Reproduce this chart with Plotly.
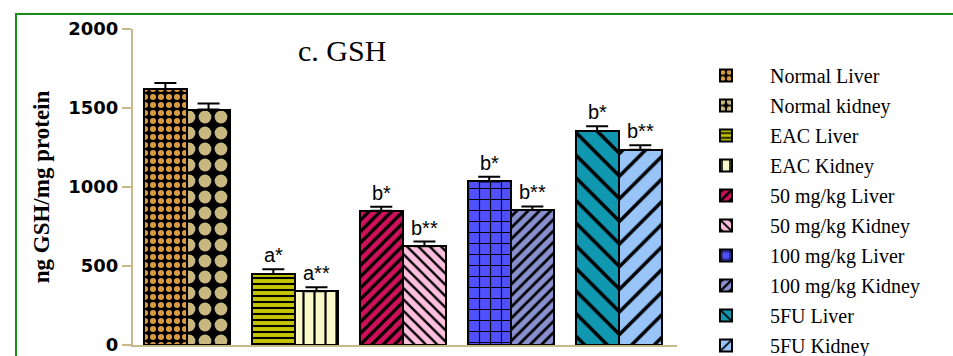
import plotly.graph_objects as go

# ---- data ----
groups = ["Normal", "EAC", "50 mg/kg", "100 mg/kg", "5FU"]
series_names = ["Normal Liver", "Normal kidney", "EAC Liver", "EAC Kidney",
                "50 mg/kg Liver", "50 mg/kg Kidney", "100 mg/kg Liver",
                "100 mg/kg Kidney", "5FU Liver", "5FU Kidney"]
values = [1620, 1490, 450, 340, 850, 625, 1035, 855, 1355, 1235]
errors = [38, 38, 30, 25, 25, 30, 30, 22, 30, 30]
sig_labels = ["", "", "a*", "a**", "b*", "b**", "b*", "b**", "b*", "b**"]
y_ticks = [0, 500, 1000, 1500, 2000]

# ---- styles ----
bg_colors = ["#d89a40", "#c8b880", "#c4c400", "#f8f8c8", "#d0105a",
             "#ffc0e0", "#5050ff", "#8890d0", "#1098b0", "#98c4f8"]
pat_shapes = [".", ".", "-", "|", "/", "\\", "+", "/", "\\", "/"]
pat_sizes = [8, 16, 6, 11, 8, 8, 11, 8, 16, 16]
pat_solid = [0.45, 0.5, 0.35, 0.2, 0.4, 0.3, 0.2, 0.35, 0.22, 0.22]

AXIS = "#c8b98a"
BOTTOM = 345  # pixel row of the x axis
fig = go.Figure()
for i, name in enumerate(series_names):
    g = i // 2
    is_liver = (i % 2 == 0)
    if pat_shapes[i] == ".":
        fg, bg = bg_colors[i], "black"
    else:
        fg, bg = "black", bg_colors[i]
    fig.add_trace(go.Bar(
        x=[g], y=[values[i]], name=name,
        width=0.4, offset=-0.4 if is_liver else 0.0,
        marker=dict(color=bg, line=dict(color="black", width=2),
                    pattern=dict(shape=pat_shapes[i], fgcolor=fg, bgcolor=bg,
                                 size=pat_sizes[i], solidity=pat_solid[i],
                                 fillmode="replace")),
        error_y=dict(type="data", array=[errors[i]], arrayminus=[0],
                     symmetric=False, color="black", thickness=2, width=11),
        legendgroup=name,
    ))
    if sig_labels[i]:
        fig.add_annotation(
            x=g + (-0.2 if is_liver else 0.2), y=values[i] + errors[i],
            text=sig_labels[i], showarrow=False, yanchor="bottom", yshift=1,
            font=dict(family="Liberation Sans, Arial", size=20, color="black"))

PH = BOTTOM - 29
fig.add_annotation(x=(296 - 133) / 544, y=(BOTTOM - 50) / PH, xref="paper", yref="paper",
                   text="c. GSH", showarrow=False, xanchor="left", yanchor="middle",
                   font=dict(family="Liberation Serif, Times New Roman", size=30, color="black"))

# green frame
fig.add_shape(type="rect", xref="paper", yref="paper",
              x0=(16 - 133) / 544, x1=2.0, y0=-1.0, y1=(BOTTOM - 14) / PH,
              line=dict(color="#1a8a1a", width=2), fillcolor="rgba(0,0,0,0)", layer="below")

fig.update_layout(
    width=953, height=356,
    margin=dict(l=133, r=276, t=29, b=356 - BOTTOM, autoexpand=False),
    paper_bgcolor="white", plot_bgcolor="white",
    barmode="overlay", bargap=0,
    showlegend=True,
    legend=dict(x=(682 - 133) / 544, y=(BOTTOM - 56) / PH, xanchor="left", yanchor="top",
                font=dict(family="Liberation Serif, Times New Roman", size=20, color="black"),
                traceorder="grouped", tracegroupgap=1, itemwidth=78, maxheight=420,
                bgcolor="rgba(0,0,0,0)"),
    xaxis=dict(range=[-0.5, 4.54], showline=True, linecolor=AXIS, linewidth=2,
               showticklabels=False, ticks="", showgrid=False, zeroline=False),
    yaxis=dict(range=[0, 2000], tickvals=y_ticks, showline=True, linecolor=AXIS,
               linewidth=2, ticks="outside", ticklen=9, tickwidth=2, tickcolor=AXIS,
               showgrid=False, zeroline=False, ticklabeloverflow="allow",
               tickfont=dict(family="DejaVu Sans", size=18, color="black", weight="bold"),
               title=dict(text="<b>ng GSH/mg protein</b>", standoff=12,
                          font=dict(family="Liberation Serif, Times New Roman", size=23, color="black"))),
)

fig.write_html("out.html")
